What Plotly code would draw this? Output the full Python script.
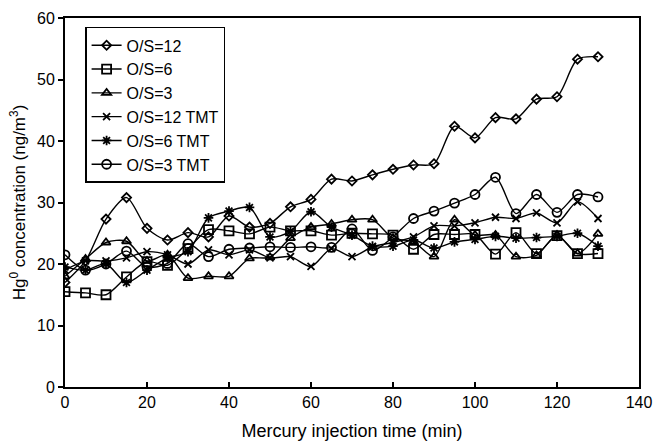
import plotly.graph_objects as go

time_min = [0, 5, 10, 15, 20, 25, 30, 35, 40, 45, 50, 55, 60, 65, 70, 75, 80,
            85, 90, 95, 100, 105, 110, 115, 120, 125, 130]

os12 = [17, 20.5, 27.3, 30.8, 25.8, 23.9, 25.1, 24.4, 27.8, 26, 26.6, 29.3, 30.5, 33.8,
        33.5, 34.5, 35.4, 36.1, 36.3, 42.4, 40.5, 43.8, 43.6, 46.8, 47.2, 53.3, 53.7]
os6 = [15.5, 15.3, 15, 17.9, 20.4, 19.8, 22.5, 25.6, 25.4, 24.9, 26, 25.4, 25.4, 24.7,
       25, 24.9, 24.7, 22.4, 24.8, 24.8, 24.8, 21.6, 25.1, 21.7, 24.6, 21.7, 21.7]
os3 = [18, 20.8, 23.5, 23.7, 20.5, 21.5, 17.7, 18, 18, 20.9, 21.1, 24.2, 26, 26.5,
       27.2, 27.2, 24.2, 23.6, 21.2, 27.2, 24.7, 24.7, 21.2, 21.4, 24.7, 21.7, 24.9]
os12_tmt = [19, 20.5, 20.5, 21, 22, 21.5, 20, 22.3, 21.5, 22.3, 21, 21.2, 19.6, 22.5,
            21.2, 22.8, 23.5, 24.4, 26.2, 26.2, 26.7, 27.6, 27.4, 28.3, 26.7, 30.1, 27.4]
os6_tmt = [19.5, 19, 20, 17, 19, 21, 22, 27.5, 28.6, 29.2, 24.4, 25.3, 28.5, 26, 24.7,
           22.9, 22.9, 23.9, 22.6, 23.6, 24, 24.5, 24.2, 24.3, 24.5, 25, 22.9]
os3_tmt = [21.5, 19, 20, 22.1, 19.5, 20.1, 23.3, 21.2, 22.4, 22.6, 22.8, 22.7, 22.8, 22.7,
           25.7, 22.2, 24.4, 27.4, 28.6, 29.9, 31.3, 34.1, 28.2, 31.3, 28.4, 31.3, 30.9]

series_names = ["O/S=12", "O/S=6", "O/S=3", "O/S=12 TMT", "O/S=6 TMT", "O/S=3 TMT"]
series_values = [os12, os6, os3, os12_tmt, os6_tmt, os3_tmt]
symbols = ["diamond-open", "square-open", "triangle-up-open", "x-thin-open",
           "asterisk-open", "circle-open"]
sizes = [7, 9, 8, 7, 8, 9]

fig = go.Figure()
for name, vals, sym, sz in zip(series_names, series_values, symbols, sizes):
    fig.add_trace(go.Scatter(
        x=time_min, y=vals, name=name, mode="lines+markers",
        line=dict(color="black", width=1.4, shape="spline", smoothing=0.8),
        marker=dict(symbol=sym, size=sz, color="black",
                    line=dict(color="black", width=1.8)),
    ))

font_family = "Liberation Sans, Arial, sans-serif"
fig.update_layout(
    width=655, height=441,
    margin=dict(l=65, r=16, t=18, b=54),
    paper_bgcolor="white", plot_bgcolor="white",
    font=dict(family=font_family, size=16, color="black"),
    showlegend=True,
    legend=dict(x=0.035, y=0.976, xanchor="left", yanchor="top",
                bgcolor="white", bordercolor="black", borderwidth=1.5,
                font=dict(size=16), itemwidth=30, tracegroupgap=0),
    xaxis=dict(range=[0, 140], tickvals=[0, 20, 40, 60, 80, 100, 120, 140],
               ticks="inside", ticklen=5, tickwidth=1.5, tickcolor="black",
               showline=True, linecolor="black", linewidth=2, mirror=True,
               showgrid=False, zeroline=False, automargin=False,
               tickfont=dict(size=16),
               title=dict(text="Mercury injection time (min)", standoff=16,
                          font=dict(size=18))),
    yaxis=dict(range=[0, 60], tickvals=[0, 10, 20, 30, 40, 50, 60],
               ticks="outside", ticklen=5, tickwidth=1.5, tickcolor="black",
               showline=True, linecolor="black", linewidth=2, mirror=True,
               showgrid=False, zeroline=False, automargin=False,
               tickfont=dict(size=16),
               title=dict(text="Hg<sup>0</sup> concentration (ng/m<sup>3</sup>)",
                          standoff=7, font=dict(size=17))),
)

fig.write_html("out.html",
               config={"displayModeBar": False},
               post_script="document.body.style.margin='0';document.body.style.padding='0';")
